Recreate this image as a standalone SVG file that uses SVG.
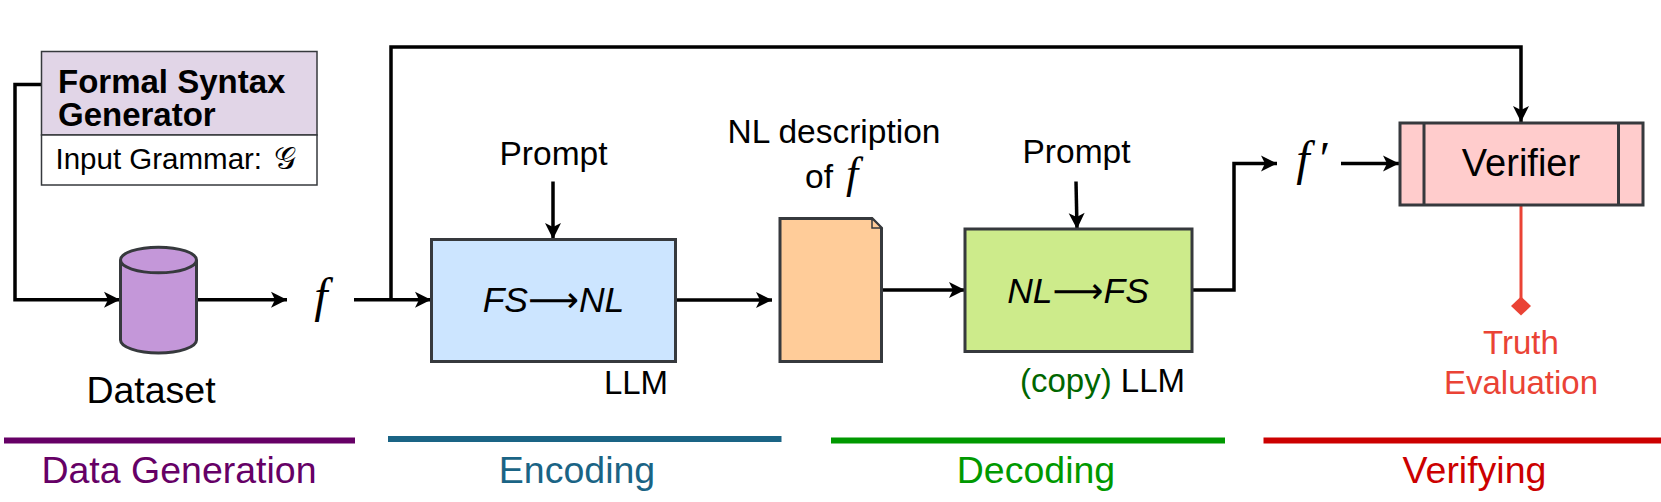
<svg xmlns="http://www.w3.org/2000/svg" width="1661" height="502" viewBox="0 0 1661 502">
<style>
text{font-family:"Liberation Sans",Arial,sans-serif;fill:#000}
.m{text-anchor:middle}
.math{font-family:"Liberation Serif","DejaVu Serif",serif;font-style:italic}
.arr{font-family:"DejaVu Sans",sans-serif;font-style:normal}
.s{stroke:#36393d;stroke-width:3}
.c{fill:none;stroke:#000;stroke-width:3.500}
.bar{stroke-width:6;fill:none}
</style>
<defs>
<marker id="a" markerUnits="userSpaceOnUse" markerWidth="18" markerHeight="18" refX="16" refY="8" orient="auto" overflow="visible"><path d="M0 0L16 8L0 16L4 8Z" fill="#000"/></marker>
</defs>
<rect width="1661" height="502" fill="#fff"/>
<g id="connectors">
<path class="c" d="M41 84.500H15V299.800H120" marker-end="url(#a)"/>
<path class="c" d="M197 299.800H287" marker-end="url(#a)"/>
<path class="c" d="M354 299.800H431" marker-end="url(#a)"/>
<path class="c" d="M391 299.800V47H1521V122" marker-end="url(#a)"/>
<path class="c" d="M553 181.500V239" marker-end="url(#a)"/>
<path class="c" d="M676 300H772" marker-end="url(#a)"/>
<path class="c" d="M882 290H965" marker-end="url(#a)"/>
<path class="c" d="M1076 181.500L1077 229" marker-end="url(#a)"/>
<path class="c" d="M1192 290H1234V163.500H1277" marker-end="url(#a)"/>
<path class="c" d="M1341 163.500H1399" marker-end="url(#a)"/>
<path d="M1521 205V300" fill="none" stroke="#ea4335" stroke-width="3"/>
<path d="M1521 296.500L1531 306L1521 315.500L1511 306Z" fill="#ea4335"/>
</g>
<g id="generator">
<rect x="41.500" y="51.500" width="275.500" height="83.500" fill="#e1d5e7" stroke="#36393d" stroke-width="1.500"/>
<rect x="41.500" y="135" width="275.500" height="50" fill="#fff" stroke="#36393d" stroke-width="1.500"/>
<text x="58" y="92.500" font-size="33" font-weight="700">Formal Syntax</text>
<text x="58" y="126" font-size="33" font-weight="700">Generator</text>
<text x="55.500" y="169" font-size="29.500">Input Grammar:</text>
<text x="274" y="169" font-size="31" font-family="'Noto Sans','DejaVu Sans',serif">𝒢</text>
</g>
<g id="dataset">
<path class="s" fill="#c497d9" d="M120.500 260V340C120.500 347 137.500 353 158.500 353S196.500 347 196.500 340V260"/>
<ellipse class="s" fill="#c497d9" cx="158.500" cy="260" rx="38" ry="12.800"/>
<text x="151" y="403" class="m" font-size="37.500">Dataset</text>
</g>
<g id="f"><text x="321" y="312" class="m math" font-size="48">f</text></g>
<g id="encoder">
<rect class="s" x="431.500" y="239.500" width="244" height="122" fill="#cce5ff"/>
<text x="553.500" y="312" class="m" font-size="35.500" font-style="italic">FS<tspan class="arr">⟶</tspan>NL</text>
<text x="636" y="394" class="m" font-size="33">LLM</text>
</g>
<g id="prompt1"><text x="553.500" y="165" class="m" font-size="33.500">Prompt</text></g>
<g id="description">
<path class="s" fill="#ffcc99" d="M780 218.500H872L881.500 228V361.500H780Z"/>
<path fill="#ffcc99" stroke="#36393d" stroke-width="1.500" d="M872 218.500V228H881.500Z"/>
<text x="834" y="143" class="m" font-size="33.500">NL description</text>
<text x="819" y="188" class="m" font-size="33.500">of</text>
<text x="852" y="188" class="m math" font-size="44">f</text>
</g>
<g id="decoder">
<rect class="s" x="965" y="229" width="227" height="122.500" fill="#cdeb8b"/>
<text x="1078" y="302.500" class="m" font-size="35.500" font-style="italic">NL<tspan class="arr">⟶</tspan>FS</text>
<text x="1102.500" y="392" class="m" font-size="33"><tspan fill="#006600">(copy)</tspan> LLM</text>
</g>
<g id="prompt2"><text x="1076.500" y="163" class="m" font-size="33.500">Prompt</text></g>
<g id="fprime"><text x="1303" y="175" class="m math" font-size="48">f</text><text x="1322" y="175" class="m math" font-size="48">′</text></g>
<g id="verifier">
<rect class="s" x="1400" y="123" width="243" height="82" fill="#ffcccc"/>
<path class="s" fill="none" d="M1424 123V205M1618.500 123V205"/>
<text x="1521" y="176" class="m" font-size="38">Verifier</text>
</g>
<g id="truth">
<text x="1521" y="354" class="m" font-size="33" style="fill:#ea4335">Truth</text>
<text x="1521" y="394" class="m" font-size="33" style="fill:#ea4335">Evaluation</text>
</g>
<g id="stages">
<path class="bar" stroke="#660066" d="M4 440.500H355"/>
<text x="179" y="482.500" class="m" font-size="37.500" style="fill:#660066">Data Generation</text>
<path class="bar" stroke="#1a6485" d="M388 439H781.500"/>
<text x="577" y="483" class="m" font-size="37.500" style="fill:#1a6485">Encoding</text>
<path class="bar" stroke="#009900" d="M831 440.500H1225"/>
<text x="1036" y="483" class="m" font-size="37.500" style="fill:#009900">Decoding</text>
<path class="bar" stroke="#cc0000" d="M1263.500 440.500H1661"/>
<text x="1474.500" y="483" class="m" font-size="37.500" style="fill:#cc0000">Verifying</text>
</g>
</svg>
